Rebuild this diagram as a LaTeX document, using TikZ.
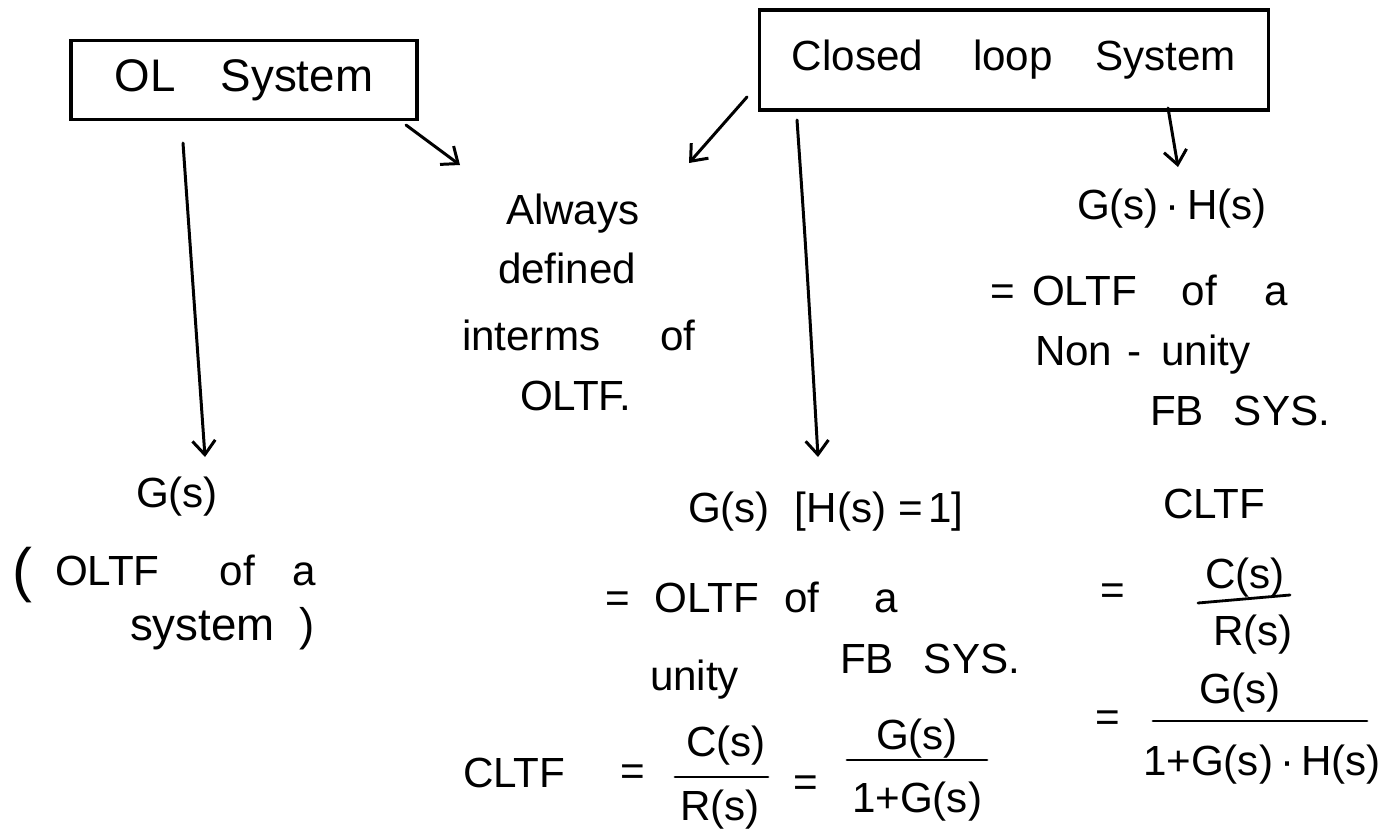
\documentclass[tikz,border=0pt]{standalone}
\usepackage{fontspec}
\setmainfont{Liberation Sans}
\usetikzlibrary{arrows.meta}

\begin{document}
\begin{tikzpicture}[x=0.02cm, y=-0.02cm,
  every node/.style={inner sep=0pt, outer sep=0pt, font=\fontsize{24}{28}\selectfont},
  txt/.style={anchor=base west},
  box/.style={draw, line width=2.2pt, rectangle},
  link/.style={line width=1.7pt, line cap=round,
    -{Straight Barb[length=8pt, width=13pt, line width=1.7pt]}},
  bar/.style={line width=1.6pt, line cap=round}]

% canvas
\fill[white] (0,0) rectangle (1382,832);
\useasboundingbox (0,0) rectangle (1382,832);

% ---- the two headings ----
\node[box, minimum width=6.92cm, minimum height=1.58cm] (olbox) at (244,80)
  {\fontsize{26}{30}\selectfont OL\hspace{0.9cm}System};
\node[box, minimum width=10.18cm, minimum height=2.0cm] (clbox) at (1014,60)
  {Closed\hspace{1.0cm}loop\hspace{0.85cm}System};

% ---- shared remark in the middle ----
\node[txt] (always)  at (506,224) {Always};
\node[txt] (defined) at (498,283) {defined};
\node[txt] (interms) at (462,350) {interms\hspace{1.2cm}of};
\node[txt] (oltf)    at (520,410) {OLTF.};

% ---- open loop branch ----
\node[txt] (gol)   at (136,507) {G(s)};
\node[txt] (olpar) at (12,590) {\fontsize{34}{34}\selectfont (};
\node[txt] (olof)  at (55,585) {OLTF\hspace{1.2cm}of\hspace{0.75cm}a};
\node[txt] (olsys) at (130,640) {\fontsize{26}{30}\selectfont system\hspace{0.5cm})};

% ---- unity feedback branch ----
\node[txt] (gcl)    at (688,522) {G(s)\hspace{0.5cm}[H(s)\hspace{0.25cm}=\hspace{0.1cm}1]};
\node[txt] (clof)   at (605,612) {=\hspace{0.5cm}OLTF\hspace{0.5cm}of\hspace{1.1cm}a};
\node[txt] (unity)  at (650,690) {unity};
\node[txt] (clfb)   at (840,673) {FB\hspace{0.6cm}SYS.};

\node[txt] (cltfa)  at (463,787) {CLTF};
\node[txt] (eqa)    at (620,785) {=};
\node[txt] (numa)   at (686,756) {C(s)};
\node[txt] (dena)   at (680,820) {R(s)};
\node[txt] (eqb)    at (793,796) {=};
\node[txt] (numb)   at (876,749) {G(s)};
\node[txt] (denb)   at (852,812) {1+G(s)};
\draw[bar] (675,777) -- (768,777);
\draw[bar] (847,760) -- (987,760);

% ---- non-unity feedback branch ----
\node[txt] (gh)     at (1077,219) {G(s)\,·\,H(s)};
\node[txt] (nuof)   at (990,305) {=\hspace{0.35cm}OLTF\hspace{0.9cm}of\hspace{0.95cm}a};
\node[txt] (nonu)   at (1035,365) {Non\hspace{0.3cm}-\hspace{0.4cm}unity};
\node[txt] (nufb)   at (1150,425) {FB\hspace{0.6cm}SYS.};

\node[txt] (cltfb)  at (1163,518) {CLTF};
\node[txt] (eqc)    at (1100,604) {=};
\node[txt] (numc)   at (1205,588) {C(s)};
\node[txt] (denc)   at (1213,645) {R(s)};
\node[txt] (eqd)    at (1095,731) {=};
\node[txt] (numd)   at (1199,703) {G(s)};
\node[txt] (dend)   at (1143,775) {1+G(s)\,·\,H(s)};
\draw[bar] (1198,603) -- (1290,595);
\draw[bar] (1153,721) -- (1367,721);

% ---- arrow ends ----
\coordinate (olTailDown)  at (183,143);
\coordinate (golHead)     at (205,457);
\coordinate (olTailDiag)  at (406,125);
\coordinate (alwaysHeadL) at (460,165);
\coordinate (clTailDiag)  at (747,97);
\coordinate (alwaysHeadR) at (689,163);
\coordinate (clTailMid)   at (797,120);
\coordinate (gclHead)     at (818,457);
\coordinate (clTailRight) at (1168,108);
\coordinate (ghHead)      at (1178,167);

\draw[link] (olTailDown) -- (golHead);
\draw[link] (olTailDiag) -- (alwaysHeadL);
\draw[link] (clTailDiag) -- (alwaysHeadR);
\draw[link] (clTailMid) .. controls (806,250) .. (gclHead);
\draw[link] (clTailRight) -- (ghHead);

\end{tikzpicture}
\end{document}
